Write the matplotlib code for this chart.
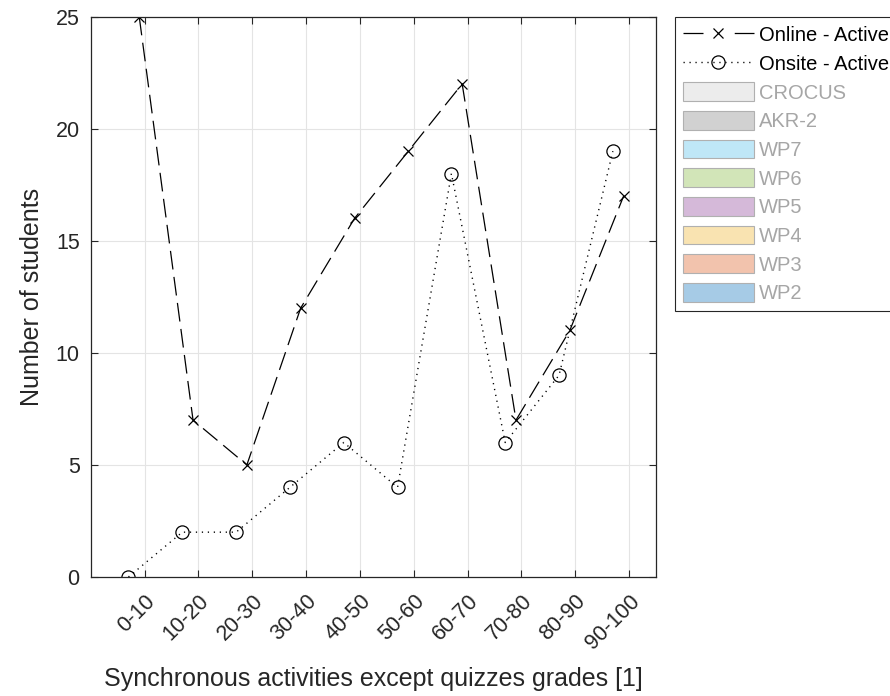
import matplotlib
matplotlib.use("Agg")
import matplotlib.pyplot as plt
from matplotlib.lines import Line2D
from matplotlib.patches import Patch

plt.rcParams['font.family'] = ['Liberation Sans', 'DejaVu Sans']

# grade bins and student counts
bins = ['0-10', '10-20', '20-30', '30-40', '40-50',
        '50-60', '60-70', '70-80', '80-90', '90-100']
bin_pos = [10, 20, 30, 40, 50, 60, 70, 80, 90, 100]
online_pos = [9, 19, 29, 39, 49, 59, 69, 79, 89, 99]
onsite_pos = [7, 17, 27, 37, 47, 57, 67, 77, 87, 97]
online_active = [25, 7, 5, 12, 16, 19, 22, 7, 11, 17]
onsite_active = [0, 2, 2, 4, 6, 4, 18, 6, 9, 19]

# hidden groups still listed in the legend
groups = ['CROCUS', 'AKR-2', 'WP7', 'WP6', 'WP5', 'WP4', 'WP3', 'WP2']
group_colors = ['#ececec', '#d1d1d1', '#bfe7f7', '#d2e5b8',
                '#d5b9d9', '#f9e3b1', '#f2c3ad', '#a6cbe6']

dark = '#262626'

fig = plt.figure(figsize=(8.9, 6.96), dpi=100)
ax = fig.add_axes([0.102, 0.171, 0.635, 0.805])

ax.plot(online_pos, online_active, color='black', lw=0.9,
        linestyle=(0, (15, 6)), marker='x', markersize=7.5,
        markeredgewidth=0.9)
ax.plot(onsite_pos, onsite_active, color='black', lw=1.0,
        linestyle=(0, (0.9, 3.4)), marker='o', markersize=9.5,
        fillstyle='none', markeredgewidth=0.9)

ax.set_xlim(0, 105)
ax.set_ylim(0, 25)
ax.set_xticks(bin_pos)
ax.set_xticklabels(bins, rotation=45, ha='right', va='top',
                   rotation_mode='anchor')
ax.set_yticks([0, 5, 10, 15, 20, 25])
ax.grid(True, color='#e4e4e4', lw=0.8)
ax.set_axisbelow(True)
ax.tick_params(direction='in', top=True, right=True, length=5,
               width=0.8, color=dark, labelcolor=dark, labelsize=15.5)
ax.tick_params(axis='x', pad=10)
ax.tick_params(axis='y', pad=8)
for s in ax.spines.values():
    s.set_color(dark)
    s.set_linewidth(0.9)

ax.set_xlabel('Synchronous activities except quizzes grades [1]',
              fontsize=18, color=dark, labelpad=10)
ax.set_ylabel('Number of students', fontsize=18, color=dark,
              labelpad=8)

# legend handles drawn with their own dash spacing
h_online = Line2D([], [], color='black', lw=0.9, linestyle=(0, (16, 25)),
                  marker='x', markersize=7.5, markeredgewidth=0.9)
h_onsite = Line2D([], [], color='black', lw=1.0,
                  linestyle=(0, (0.9, 3.4)), marker='o', markersize=9.5,
                  fillstyle='none', markeredgewidth=0.9)
handles = [h_online, h_onsite] + [Patch(facecolor=c, edgecolor='#b0b0b0',
                                        lw=0.8) for c in group_colors]
labels = ['Online - Active', 'Onsite - Active'] + groups
leg = fig.legend(handles, labels, loc='upper left',
                 bbox_to_anchor=(675 / 890, 1 - 17 / 696),
                 borderaxespad=0, fontsize=14.5, handlelength=3.5,
                 handleheight=1.05, handletextpad=0.25, labelspacing=0.42,
                 borderpad=0.4, numpoints=1, fancybox=False,
                 edgecolor=dark, framealpha=1)
leg.get_frame().set_linewidth(0.8)
for t in leg.get_texts()[2:]:
    t.set_color('#a6a6a6')

fig.savefig('out.png', dpi=100)
